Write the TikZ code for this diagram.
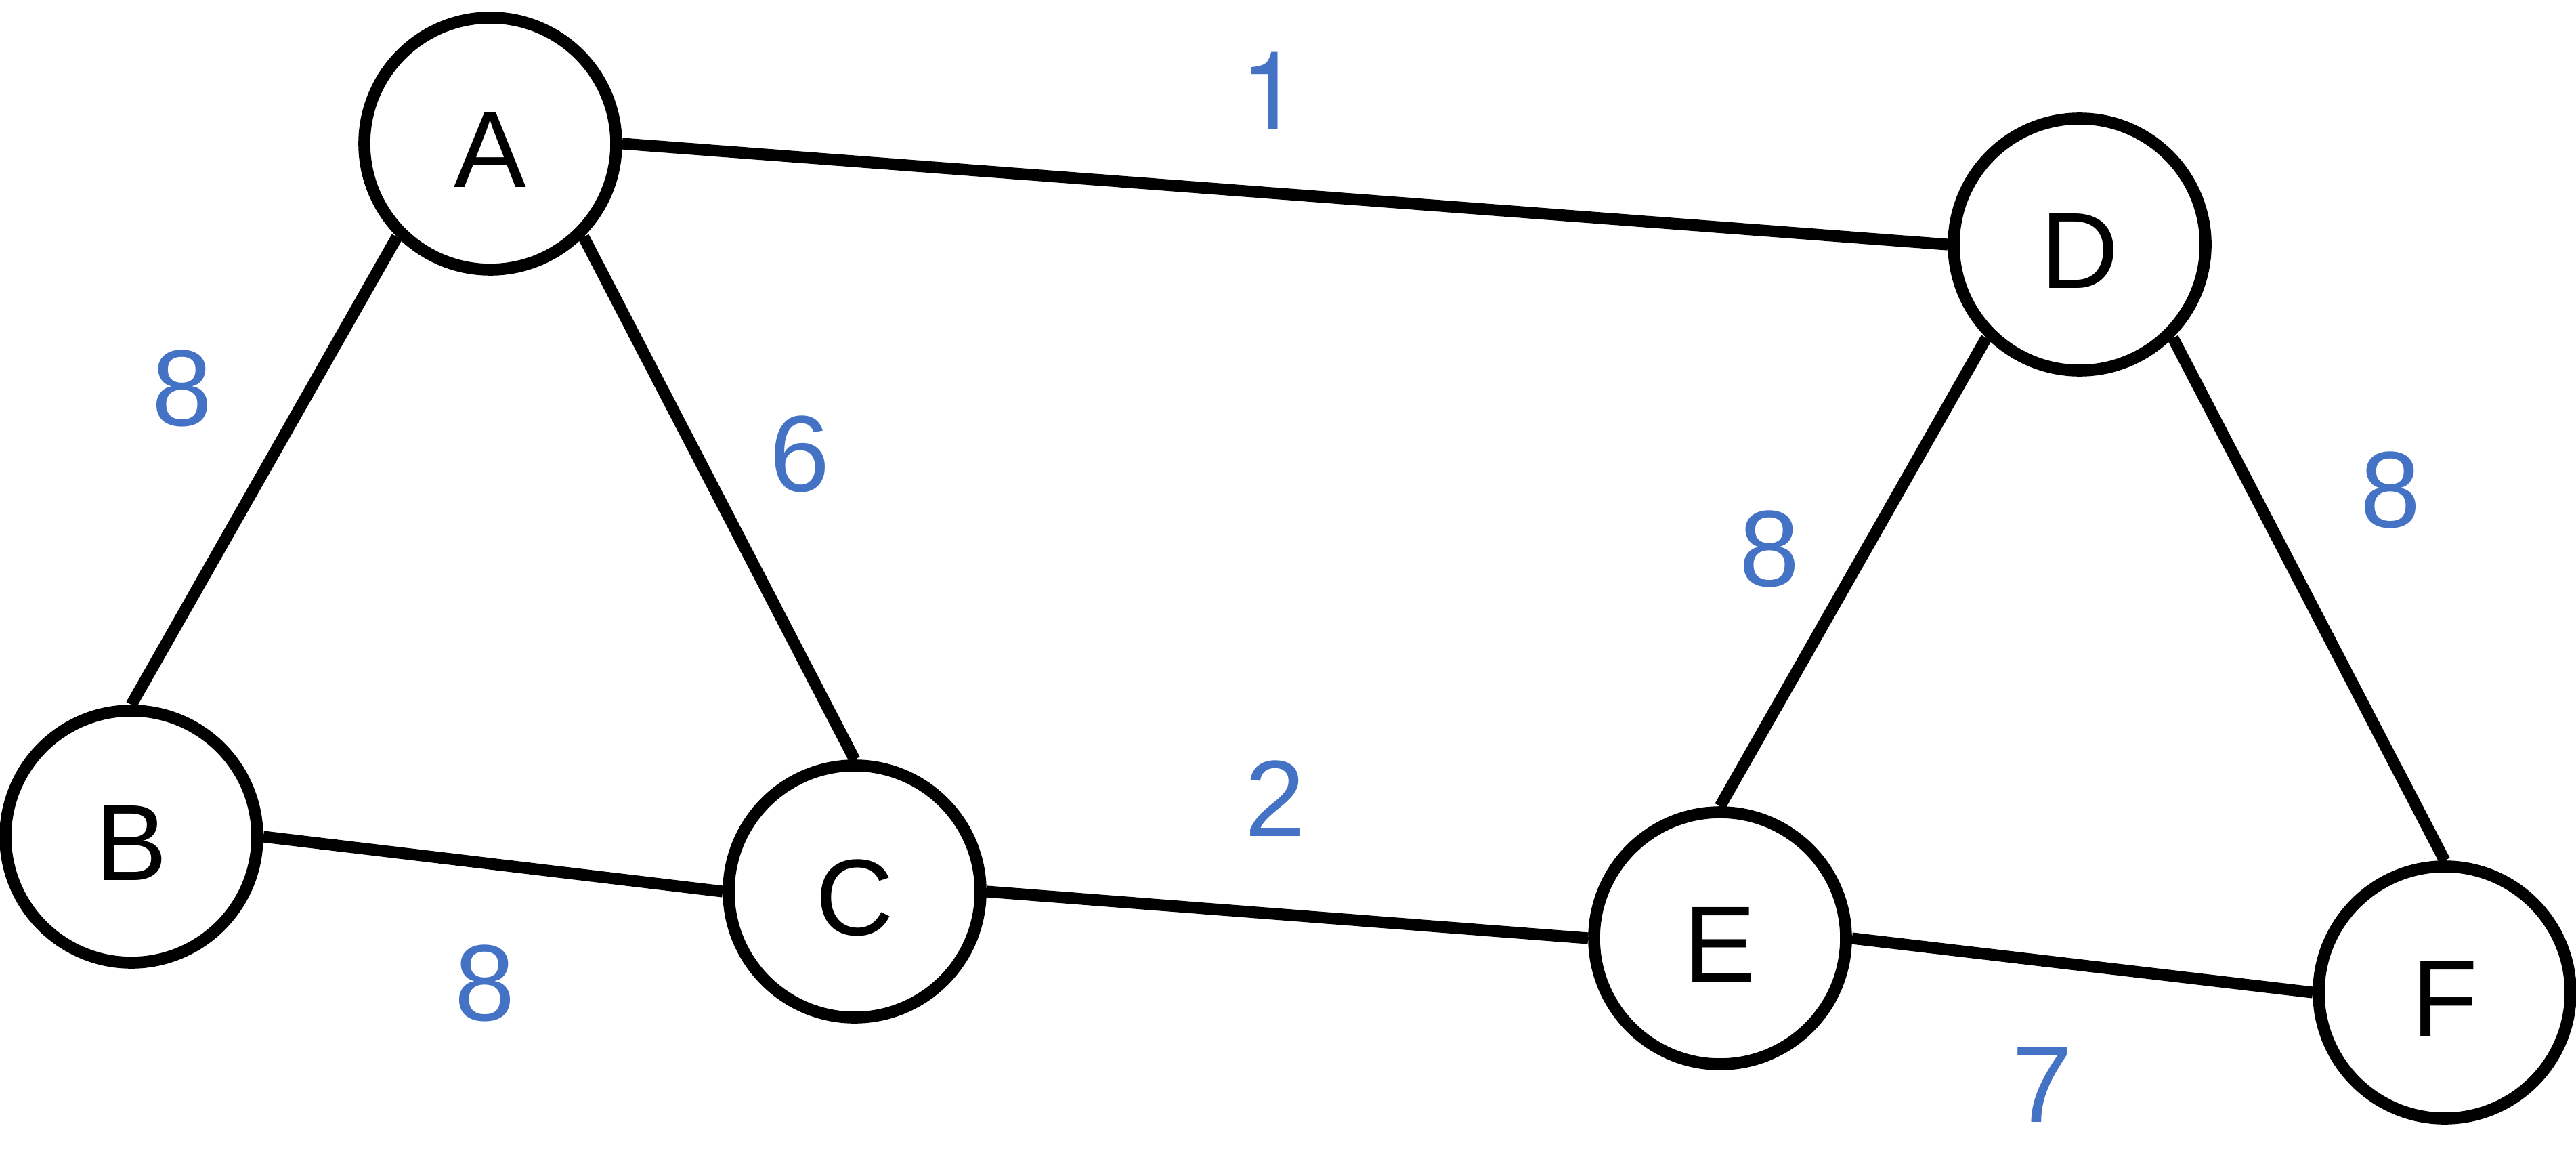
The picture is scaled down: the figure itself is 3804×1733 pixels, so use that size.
\documentclass[tikz,border=0pt]{standalone}
\usepackage{fontspec}
\setmainfont{Liberation Sans}
\newfontfamily\heros{TeX Gyre Heros}
\definecolor{wblue}{RGB}{68,114,196}
\begin{document}
\begin{tikzpicture}[x=0.25pt,y=-0.25pt,
  vertex/.style={circle,draw=black,fill=white,line width=4.4pt,minimum size=93pt,inner sep=0pt,
    text height=32.3pt,text depth=0pt,font=\fontsize{40}{48}\selectfont},
  edge/.style={line width=4.3pt,black},
  weight/.style={text=wblue,inner sep=0pt,font=\fontsize{40}{48}\selectfont}]
\useasboundingbox (0,0) rectangle (3804,1733);
\node[vertex] (A) at (724,212) {A};
\node[vertex] (B) at (194,1235) {B};
\node[vertex] (C) at (1262,1316) {C};
\node[vertex] (D) at (3071,361) {D};
\node[vertex] (E) at (2540,1385) {E};
\node[vertex] (F) at (3610,1465) {F};
\draw[edge] (A.east) -- (D.west);
\draw[edge] (A.south west) -- (B.north);
\draw[edge] (A.south east) -- (C.north);
\draw[edge] (B.east) -- (C.west);
\draw[edge] (C.east) -- (E.west);
\draw[edge] (D.south west) -- (E.north);
\draw[edge] (D.south east) -- (F.north);
\draw[edge] (E.east) -- (F.west);
\node[weight,font=\fontsize{40}{48}\heros] (w1) at (1876,134) {1};
\node[weight] (w2) at (269,573) {8};
\node[weight] (w3) at (1181,670) {6};
\node[weight] (w4) at (2613,810) {8};
\node[weight] (w5) at (3530,723) {8};
\node[weight] (w6) at (1883,1179) {2};
\node[weight] (w7) at (716,1451) {8};
\node[weight] (w8) at (3016,1601) {7};
\end{tikzpicture}
\end{document}
